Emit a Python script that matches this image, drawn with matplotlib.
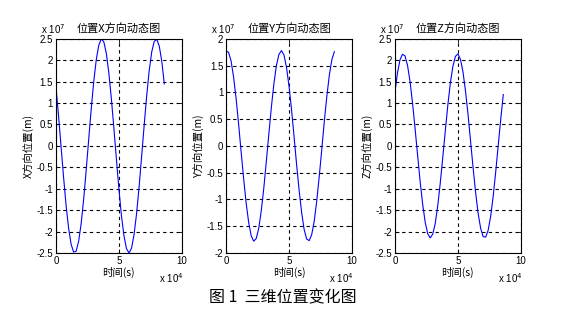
import matplotlib
matplotlib.use('Agg')
import matplotlib.pyplot as plt

plt.rcParams['font.family'] = ['Liberation Sans', 'Noto Sans CJK SC', 'DejaVu Sans']
cjk = ['Noto Sans CJK SC', 'DejaVu Sans']

# time in seconds, step 2000 s
t = [2000 * k for k in range(44)]

# positions, units of 1e7 m
pos_x = [1.38, 0.73, 0.01, -0.71, -1.37, -1.91, -2.29, -2.48, -2.46, -2.23,
         -1.82, -1.25, -0.57, 0.15, 0.86, 1.50, 2.01, 2.35, 2.50, 2.43,
         2.16, 1.70, 1.10, 0.41, -0.31, -1.01, -1.63, -2.10, -2.40, -2.50,
         -2.39, -2.07, -1.58, -0.96, -0.25, 0.47, 1.16, 1.75, 2.19, 2.44,
         2.49, 2.33, 1.98, 1.45]
pos_y = [1.77, 1.75, 1.59, 1.29, 0.89, 0.41, -0.11, -0.61, -1.07, -1.43,
         -1.68, -1.78, -1.73, -1.54, -1.21, -0.79, -0.29, 0.22, 0.72, 1.16,
         1.50, 1.71, 1.78, 1.70, 1.47, 1.12, 0.68, 0.18, -0.34, -0.82,
         -1.24, -1.56, -1.74, -1.77, -1.66, -1.41, -1.03, -0.57, -0.07, 0.45,
         0.92, 1.32, 1.61, 1.76]
pos_z = [1.25, 1.70, 2.01, 2.14, 2.10, 1.88, 1.50, 0.99, 0.40, -0.22,
         -0.83, -1.36, -1.78, -2.05, -2.15, -2.06, -1.81, -1.39, -0.86, -0.26,
         0.36, 0.96, 1.47, 1.86, 2.09, 2.15, 2.02, 1.73, 1.28, 0.74,
         0.12, -0.50, -1.08, -1.57, -1.92, -2.12, -2.13, -1.97, -1.64, -1.17,
         -0.60, 0.02, 0.63, 1.20]

titles = ['位置X方向动态图', '位置Y方向动态图', '位置Z方向动态图']
ylabels = ['X方向位置(m)', 'Y方向位置(m)', 'Z方向位置(m)']
ylims = [(-2.5, 2.5), (-2, 2), (-2.5, 2.5)]
lefts = [0.099, 0.400, 0.699]

fig = plt.figure(figsize=(5.65, 3.21), dpi=100)

for i, vals in enumerate([pos_x, pos_y, pos_z]):
    ax = fig.add_axes([lefts[i], 0.212, 0.223, 0.667])
    ax.plot([v / 1e4 for v in t], vals, color='#0000ff', lw=0.8)
    ax.set_xlim(0, 10)
    ax.set_ylim(*ylims[i])
    ax.set_xticks([0, 5, 10])
    lo, hi = ylims[i]
    yt = [lo + 0.5 * k for k in range(int((hi - lo) / 0.5) + 1)]
    ax.set_yticks(yt)
    ax.set_yticklabels(['%g' % v for v in yt])
    ax.grid(True, color='black', linestyle=(0, (3, 3)), linewidth=0.8)
    ax.tick_params(direction='in', labelsize=7, length=3, width=0.6, pad=2,
                   top=True, right=True)
    for s in ax.spines.values():
        s.set_linewidth(0.8)
    ax.set_title(titles[i], fontsize=8, family=cjk, pad=5)
    ax.text(-0.12, 1.015, r'x 10$^7$', transform=ax.transAxes, fontsize=7,
            ha='left', va='bottom')
    ax.set_xlabel('时间(s)', fontsize=7.5, family=cjk, labelpad=1)
    ax.set_ylabel(ylabels[i], fontsize=7.5, family=cjk, labelpad=2)
    ax.text(1.01, -0.085, r'x 10$^4$', transform=ax.transAxes, fontsize=7,
            ha='right', va='top')

fig.text(0.5, 0.072, '图 1  三维位置变化图', fontsize=11.5, family=cjk,
         ha='center', va='center')

fig.savefig('out.png', dpi=100)
